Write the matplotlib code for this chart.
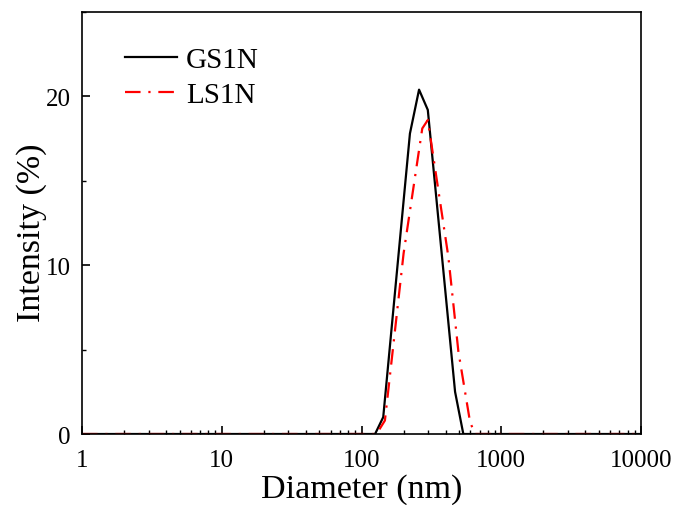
import matplotlib
matplotlib.use("Agg")
import matplotlib.pyplot as plt
from matplotlib.ticker import LogLocator, NullFormatter, MultipleLocator

plt.rcParams['font.family'] = ['Liberation Serif', 'DejaVu Serif']

# valores
gs1n_d = [1, 125, 143, 222, 258, 298, 467, 535, 10000]
gs1n_i = [0, 0, 1.0, 17.8, 20.4, 19.2, 2.5, 0, 0]

ls1n_d = [1, 128, 147, 200, 272, 298, 418, 493, 598, 650, 10000]
ls1n_i = [0, 0, 0.8, 10.7, 18.1, 18.6, 10.5, 4.9, 0.7, 0, 0]

xticks = [1, 10, 100, 1000, 10000]
xtick_labels = ['1', '10', '100', '1000', '10000']
yticks = [0, 10, 20]

fig = plt.figure(figsize=(6.76, 5.06), dpi=100)
ax = fig.add_axes([0.1213, 0.1403, 0.8270, 0.8340])

ax.plot(gs1n_d, gs1n_i, color='black', lw=1.6, label='GS1N')
ax.plot(ls1n_d, ls1n_i, color='red', lw=1.6, linestyle=(0, (7, 3.5, 1, 3.5)), label='LS1N')

ax.set_xscale('log')
ax.set_xlim(1, 10000)
ax.set_ylim(0, 25)
ax.set_xticks(xticks)
ax.set_xticklabels(xtick_labels)
ax.xaxis.set_minor_locator(LogLocator(base=10, subs=range(2, 10)))
ax.xaxis.set_minor_formatter(NullFormatter())
ax.set_yticks(yticks)
ax.yaxis.set_minor_locator(MultipleLocator(5))

ax.tick_params(which='major', direction='in', length=6, width=1.2, labelsize=18)
ax.tick_params(axis='x', which='major', pad=11)
ax.tick_params(axis='y', which='major', pad=8)
ax.tick_params(which='minor', direction='in', length=3, width=1.0)
for s in ax.spines.values():
    s.set_linewidth(1.2)

# rotulos dos eixos
ax.set_xlabel('Diameter (nm)', fontsize=24.5)
ax.xaxis.set_label_coords(0.5, -0.094)
ax.set_ylabel('Intensity (%)', fontsize=24.5)
ax.yaxis.set_label_coords(-0.063, 0.48)

ax.legend(loc='upper left', frameon=False, fontsize=21, handlelength=1.8,
          handletextpad=0.3, labelspacing=0.3, borderaxespad=0,
          bbox_to_anchor=(0.056, 0.946))

fig.savefig('out.png', dpi=100)
